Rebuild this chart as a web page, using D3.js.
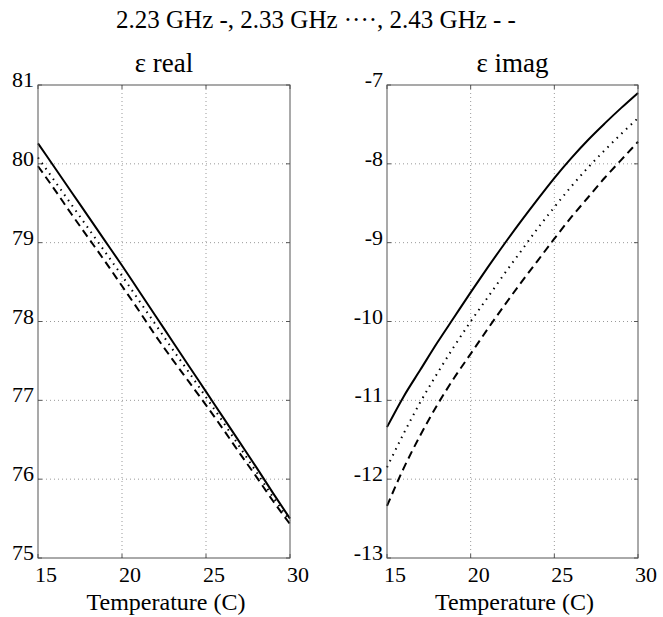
<!DOCTYPE html>
<html>
<head>
<meta charset="utf-8">
<script src="https://cdn.jsdelivr.net/npm/d3@7"></script>
<style>
  body { margin: 0; background: #fff; }
  text { font-family: "Liberation Serif", "Times New Roman", serif; fill: #000; }
</style>
</head>
<body>
<div id="chart"></div>
<script>
// temperatures (C)
var temps = [15, 16, 17, 18, 19, 20, 21, 22, 23, 24, 25, 26, 27, 28, 29, 30];

// real part, one array per frequency
var real223 = [80.26, 79.95, 79.64, 79.33, 79.02, 78.71, 78.39, 78.07, 77.75, 77.43, 77.11, 76.79, 76.47, 76.15, 75.82, 75.50];
var real233 = [80.08, 79.78, 79.48, 79.18, 78.88, 78.58, 78.27, 77.96, 77.65, 77.35, 77.04, 76.73, 76.41, 76.09, 75.77, 75.47];
var real243 = [79.97, 79.67, 79.36, 79.06, 78.76, 78.45, 78.14, 77.82, 77.52, 77.23, 76.94, 76.64, 76.33, 76.03, 75.72, 75.43];

// imaginary part
var imag223 = [-11.34, -10.95, -10.61, -10.27, -9.95, -9.63, -9.32, -9.02, -8.73, -8.45, -8.18, -7.93, -7.70, -7.49, -7.29, -7.10];
var imag233 = [-11.85, -11.42, -11.02, -10.66, -10.32, -10.00, -9.70, -9.40, -9.11, -8.82, -8.55, -8.29, -8.05, -7.83, -7.62, -7.42];
var imag243 = [-12.34, -11.86, -11.44, -11.06, -10.72, -10.41, -10.10, -9.80, -9.51, -9.23, -8.95, -8.68, -8.43, -8.18, -7.95, -7.72];

var xTicks = [15, 20, 25, 30];
var realTicks = [75, 76, 77, 78, 79, 80, 81];
var imagTicks = [-13, -12, -11, -10, -9, -8, -7];

var svg = d3.select("#chart")
	.append("svg")
	.attr("width", 663)
	.attr("height", 617);

svg.append("text")
	.attr("x", 316)
	.attr("y", 28)
	.attr("text-anchor", "middle")
	.style("font-size", "25px")
	.text("2.23 GHz -, 2.33 GHz \u00b7\u00b7\u00b7\u00b7, 2.43 GHz - -");

var plotTop = 85, plotBottom = 558;
var styles = [
	{dash: null},
	{dash: "1.5,5"},
	{dash: "8,5"}
];

function panel(left, right, title, ticks, series) {
	var x = d3.scaleLinear().domain([15, 30]).range([left, right]);
	var y = d3.scaleLinear().domain([ticks[0], ticks[ticks.length - 1]]).range([plotBottom, plotTop]);
	var g = svg.append("g");

	// grid
	g.selectAll(".vg").data(xTicks.slice(1, -1)).enter().append("line")
		.attr("x1", d => x(d)).attr("x2", d => x(d))
		.attr("y1", plotTop).attr("y2", plotBottom)
		.attr("stroke", "#999").attr("stroke-width", 1)
		.attr("stroke-dasharray", "1,3");
	g.selectAll(".hg").data(ticks.slice(1, -1)).enter().append("line")
		.attr("x1", left).attr("x2", right)
		.attr("y1", d => y(d)).attr("y2", d => y(d))
		.attr("stroke", "#999").attr("stroke-width", 1)
		.attr("stroke-dasharray", "1,3");

	// curves
	var line = d3.line().x((d, i) => x(temps[i])).y(d => y(d)).curve(d3.curveMonotoneX);
	series.forEach(function(s, i) {
		g.append("path")
			.attr("d", line(s))
			.attr("fill", "none")
			.attr("stroke", "#000")
			.attr("stroke-width", 2)
			.attr("stroke-dasharray", styles[i].dash);
	});

	// box
	g.append("rect")
		.attr("x", left).attr("y", plotTop)
		.attr("width", right - left).attr("height", plotBottom - plotTop)
		.attr("fill", "none").attr("stroke", "#555").attr("stroke-width", 1);

	// ticks inward, all sides
	xTicks.forEach(function(t) {
		g.append("line").attr("x1", x(t)).attr("x2", x(t)).attr("y1", plotBottom).attr("y2", plotBottom - 4).attr("stroke", "#555");
		g.append("line").attr("x1", x(t)).attr("x2", x(t)).attr("y1", plotTop).attr("y2", plotTop + 4).attr("stroke", "#555");
	});
	ticks.forEach(function(t) {
		g.append("line").attr("x1", left).attr("x2", left + 4).attr("y1", y(t)).attr("y2", y(t)).attr("stroke", "#555");
		g.append("line").attr("x1", right).attr("x2", right - 4).attr("y1", y(t)).attr("y2", y(t)).attr("stroke", "#555");
	});

	// labels
	g.selectAll(".xl").data(xTicks).enter().append("text")
		.attr("x", d => x(d) - 3).attr("y", 582)
		.style("font-size", "22px")
		.text(d => d);
	g.selectAll(".yl").data(ticks).enter().append("text")
		.attr("x", left - 4).attr("y", d => y(d) + 2)
		.attr("text-anchor", "end")
		.style("font-size", "22px")
		.text(d => d);

	g.append("text")
		.attr("x", (left + right) / 2).attr("y", 72)
		.attr("text-anchor", "middle")
		.style("font-size", "27px")
		.text(title);
	g.append("text")
		.attr("x", (left + right) / 2 + 2).attr("y", 610)
		.attr("text-anchor", "middle")
		.style("font-size", "24px")
		.text("Temperature (C)");
}

panel(38, 290, "\u03b5 real", realTicks, [real223, real233, real243]);
panel(387, 638, "\u03b5 imag", imagTicks, [imag223, imag233, imag243]);
</script>
</body>
</html>
